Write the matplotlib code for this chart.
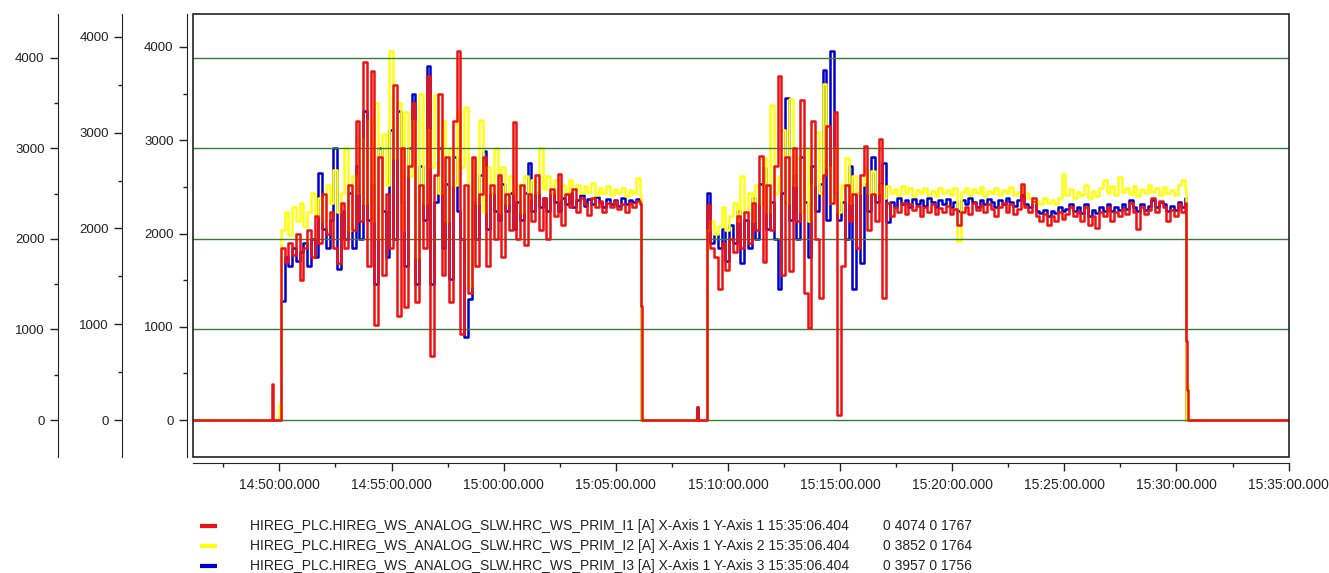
import datetime as dt
import matplotlib
matplotlib.use('Agg')
import matplotlib.pyplot as plt
import matplotlib.dates as mdates
from matplotlib.ticker import MultipleLocator
from matplotlib.lines import Line2D
from matplotlib.patches import Rectangle

plt.rcParams['font.family'] = ['Liberation Sans', 'DejaVu Sans']

DAY = dt.date(2000, 1, 1)
STEP = 10  # seconds between logged samples while the plant runs

run1_start = '14:50:04'
run2_start = '15:09:03'
x_from, x_to = '14:46:08', '15:35:01'

# ---- I1 (red, Y-Axis 1) ----
i1_before = [('14:46:08', 0), ('14:49:39', 400), ('14:49:44', 0)]
i1_run1 = [1900, 1750, 1950, 1820, 2050, 1550, 1900, 2100, 1800, 2250,
           1950, 2500, 2050, 2300, 1900, 1730, 2400, 1900, 2600, 2100,
           3300, 2200, 3950, 1700, 3850, 1050, 2900, 1600, 2500, 1900,
           3700, 1150, 3000, 1250, 2800, 3500, 1300, 2600, 1900, 3800,
           710, 2700, 3600, 1600, 2900, 1300, 3300, 4074, 950, 2600,
           1400, 2900, 1700, 2500, 2900, 1700, 2600, 2000, 2700, 1800,
           2500, 2100, 3290, 2000, 2600, 1930, 2500, 2200, 2700, 2100,
           2450, 2000, 2550, 2250, 2720, 2150, 2500, 2350, 2550, 2300,
           2450, 2380, 2260, 2450, 2350, 2420, 2300, 2400, 2350, 2420,
           2330, 2380, 2300, 2400, 2350, 2420, 2380]
i1_between = [('15:06:08', 1260), ('15:06:11', 0), ('15:08:36', 150), ('15:08:41', 0)]
i1_run2 = [2370, 1900, 1800, 1450, 1950, 1660, 2000, 1850, 2250, 1900,
           2300, 1950, 2400, 2100, 2920, 1750, 2600, 2100, 2800, 3800,
           1600, 2900, 1650, 3000, 2200, 3530, 1400, 1020, 3300, 2000,
           1350, 2700, 3250, 2400, 3400, 55, 1700, 2600, 2200, 2500,
           1900, 2700, 3020, 2100, 2500, 2200, 3100, 1350, 2400, 2250,
           2350, 2300, 2400, 2280, 2380, 2320, 2360, 2250, 2350, 2300,
           2380, 2280, 2340, 2300, 2360, 2270, 2330, 2150, 2300, 2350,
           2280, 2400, 2320, 2370, 2300, 2390, 2330, 2250, 2350, 2400,
           2300, 2380, 2280, 2330, 2610, 2350, 2300, 2450, 2250, 2200,
           2280, 2150, 2250, 2200, 2300, 2220, 2280, 2350, 2250, 2300,
           2200, 2350, 2150, 2250, 2120, 2300, 2250, 2350, 2200, 2300,
           2250, 2330, 2280, 2400, 2300, 2110, 2350, 2280, 2320, 2450,
           2300, 2420, 2350, 2200, 2320, 2250, 2380, 2300, 2400]
i1_after = [('15:30:26', 870), ('15:30:29', 330), ('15:30:32', 0), ('15:35:01', 0)]

# ---- I2 (yellow, Y-Axis 2) ----
i2_before = [('14:46:08', 0), ('14:49:58', 170), ('14:50:02', 0)]
i2_run1 = [1985, 2175, 1935, 2220, 2080, 2270, 2030, 2175, 2365, 2125,
           2315, 2080, 2455, 2270, 2610, 2175, 2365, 2835, 1985, 2550,
           2365, 2930, 2270, 3120, 2080, 3310, 1890, 2985, 2455, 3852,
           2740, 3310, 1985, 3215, 2550, 3120, 1700, 3400, 2270, 3025,
           2645, 3395, 2365, 3120, 2080, 2835, 2455, 3215, 2645, 3270,
           1400, 2740, 2270, 3130, 2175, 2645, 2365, 2835, 2175, 2645,
           2270, 2550, 2365, 2455, 2175, 2550, 2315, 2505, 2365, 2835,
           2410, 2550, 2365, 2505, 2315, 2455, 2365, 2505, 2410, 2455,
           2365, 2440, 2380, 2475, 2345, 2420, 2365, 2440, 2345, 2410,
           2365, 2420, 2335, 2400, 2365, 2525, 2345]
i2_between = [('15:06:08', 0)]
i2_run2 = [1985, 2080, 1945, 2030, 2220, 1985, 2125, 2270, 2080, 2550,
           2175, 2365, 2080, 2455, 2270, 2740, 2175, 3290, 2365, 2550,
           3025, 2270, 3355, 2455, 2740, 2175, 2835, 2080, 2455, 3005,
           2365, 3505, 2645, 2270, 2835, 2175, 2455, 2740, 2270, 2550,
           2365, 2455, 2645, 2365, 2600, 2365, 2455, 2315, 2440, 2365,
           2410, 2345, 2440, 2365, 2420, 2335, 2400, 2365, 2420, 2345,
           2390, 2335, 2420, 2365, 2400, 2345, 2420, 1870, 2380, 2420,
           2345, 2410, 2365, 2430, 2335, 2390, 2365, 2420, 2345, 2400,
           2365, 2430, 2345, 2380, 2455, 2365, 2315, 2270, 2285, 2250,
           2315, 2270, 2295, 2250, 2315, 2570, 2345, 2410, 2315, 2380,
           2345, 2455, 2315, 2390, 2335, 2420, 2505, 2365, 2440, 2345,
           2535, 2380, 2420, 2355, 2440, 2335, 2410, 2365, 2455, 2380,
           2420, 2345, 2430, 2365, 2400, 2345, 2455, 2505, 2410]
i2_after = [('15:30:26', 0), ('15:30:29', 380), ('15:30:32', 0), ('15:35:01', 0)]

# ---- I3 (blue, Y-Axis 3) ----
i3_before = [('14:46:08', 0)]
i3_run1 = [1275, 1750, 1655, 1850, 1705, 1800, 1895, 1655, 1945, 1750,
           2645, 2045, 1850, 2140, 2920, 1615, 2240, 1945, 2435, 1850,
           2725, 1945, 3310, 2140, 2530, 1460, 2920, 2240, 1750, 3115,
           1945, 3310, 2335, 1655, 2920, 3495, 1460, 2725, 2140, 3795,
           1460, 2335, 2920, 1850, 2530, 1510, 2820, 2240, 1945, 895,
           1295, 2335, 1945, 2625, 2880, 2045, 2435, 2240, 2140, 2530,
           2240, 2435, 2045, 2335, 2140, 2435, 2755, 2240, 2435, 2285,
           2385, 2240, 2435, 2335, 2240, 2385, 2315, 2435, 2285, 2355,
           2415, 2295, 2375, 2315, 2395, 2335, 2285, 2375, 2315, 2355,
           2295, 2385, 2315, 2355, 2335, 2375, 2335]
i3_between = [('15:06:08', 0), ('15:08:36', 140), ('15:08:41', 0)]
i3_run2 = [2435, 1895, 1995, 1850, 2045, 1705, 2090, 1895, 2240, 1685,
           2140, 1850, 2385, 1945, 2530, 2705, 2045, 2335, 1945, 1410,
           2435, 3455, 2140, 2625, 1945, 2820, 2335, 1750, 2725, 2240,
           2530, 3755, 2140, 3957, 2435, 2140, 2335, 1945, 2725, 1410,
           2435, 1685, 2530, 2240, 2820, 2335, 2530, 2755, 2120, 2335,
           2285, 2385, 2315, 2355, 2285, 2375, 2315, 2355, 2295, 2385,
           2335, 2285, 2355, 2315, 2375, 2285, 2335, 2240, 2355, 2315,
           2385, 2335, 2285, 2355, 2315, 2375, 2335, 2285, 2355, 2315,
           2385, 2335, 2295, 2355, 2415, 2315, 2285, 2335, 2240, 2220,
           2255, 2190, 2240, 2220, 2285, 2240, 2265, 2315, 2240, 2285,
           2220, 2315, 2190, 2255, 2220, 2285, 2240, 2315, 2240, 2285,
           2255, 2315, 2265, 2355, 2285, 2240, 2315, 2255, 2295, 2355,
           2285, 2335, 2315, 2240, 2295, 2255, 2335, 2285, 2385]
i3_after = [('15:30:26', 0), ('15:35:01', 0)]

legend_names = [
    'HIREG_PLC.HIREG_WS_ANALOG_SLW.HRC_WS_PRIM_I1 [A] X-Axis 1 Y-Axis 1 15:35:06.404',
    'HIREG_PLC.HIREG_WS_ANALOG_SLW.HRC_WS_PRIM_I2 [A] X-Axis 1 Y-Axis 2 15:35:06.404',
    'HIREG_PLC.HIREG_WS_ANALOG_SLW.HRC_WS_PRIM_I3 [A] X-Axis 1 Y-Axis 3 15:35:06.404',
]
legend_stats = ['0 4074 0 1767', '0 3852 0 1764', '0 3957 0 1756']

RED, YELLOW, BLUE = '#ee1111', '#ffff10', '#0000cc'
GRID = '#3c7a3c'
INK = '#222222'


def t(s):
    return dt.datetime.combine(DAY, dt.time.fromisoformat(s))


def build(before, run1, between, run2, after):
    times = [t(s) for s, _ in before]
    vals = [v for _, v in before]
    times += [t(run1_start) + dt.timedelta(seconds=STEP * k) for k in range(len(run1))]
    vals += run1
    times += [t(s) for s, _ in between]
    vals += [v for _, v in between]
    times += [t(run2_start) + dt.timedelta(seconds=STEP * k) for k in range(len(run2))]
    vals += run2
    times += [t(s) for s, _ in after]
    vals += [v for _, v in after]
    return times, vals


def style_y(ax, offset):
    for side in ('top', 'right', 'bottom'):
        ax.spines[side].set_visible(False)
    ax.spines['left'].set_visible(True)
    ax.spines['left'].set_position(('outward', offset))
    ax.spines['left'].set_color(INK)
    ax.yaxis.set_ticks_position('left')
    ax.tick_params(axis='y', labelleft=True, labelright=False)
    ax.yaxis.set_major_locator(MultipleLocator(1000))
    ax.yaxis.set_minor_locator(MultipleLocator(500))
    ax.tick_params(axis='y', which='major', length=6, width=1, pad=3.5,
                   labelsize=9.5, color=INK, labelcolor=INK)
    ax.tick_params(axis='y', which='minor', length=3, width=1, color=INK)


fig = plt.figure(figsize=(13.29, 5.73), dpi=100)
ax3 = fig.add_axes([0.145, 0.2024, 0.8249, 0.7731])
ax2 = ax3.twinx()
ax1 = ax3.twinx()

for ax, parts, col in ((ax3, (i3_before, i3_run1, i3_between, i3_run2, i3_after), BLUE),
                       (ax2, (i2_before, i2_run1, i2_between, i2_run2, i2_after), YELLOW),
                       (ax1, (i1_before, i1_run1, i1_between, i1_run2, i1_after), RED)):
    tt, vv = build(*parts)
    ax.plot(tt, vv, color=col, lw=1.8, drawstyle='steps-post')
    top = max(vv)
    ax.set_ylim(-0.1 * top, 1.1 * top)

style_y(ax3, 4.3)
style_y(ax2, 50.9)
style_y(ax1, 97.2)

ax3.spines['bottom'].set_visible(True)
ax3.spines['bottom'].set_position(('outward', 4.3))
ax3.spines['bottom'].set_color(INK)
ax3.set_xlim(t(x_from), t(x_to))
ax3.xaxis.set_major_locator(mdates.MinuteLocator(byminute=range(0, 60, 5)))
ax3.xaxis.set_minor_locator(MultipleLocator(2.5 / 1440))
ax3.xaxis.set_major_formatter(mdates.DateFormatter('%H:%M:%S.000'))
ax3.tick_params(axis='x', which='major', length=5.5, width=1, pad=5,
                labelsize=10, color=INK, labelcolor=INK)
ax3.tick_params(axis='x', which='minor', length=3, width=1, color=INK)

ax1.grid(True, axis='y', which='major', color=GRID, lw=1.0)
ax1.add_patch(Rectangle((0, 0), 1, 1, transform=ax1.transAxes, fill=False,
                        edgecolor=INK, lw=1.2, clip_on=False, zorder=10))

# legend block under the chart
rows_y = [1 - 525.7 / 573, 1 - 545.7 / 573, 1 - 565.7 / 573]
for y, col, name, stat in zip(rows_y, (RED, YELLOW, BLUE), legend_names, legend_stats):
    fig.add_artist(Line2D([0.1505, 0.1633], [y, y], color=col, lw=3,
                          solid_capstyle='butt', transform=fig.transFigure))
    fig.text(0.1881, y, name, fontsize=10, va='center', color=INK)
    fig.text(0.6644, y, stat, fontsize=10, va='center', color=INK)

fig.savefig('out.png', dpi=100)
